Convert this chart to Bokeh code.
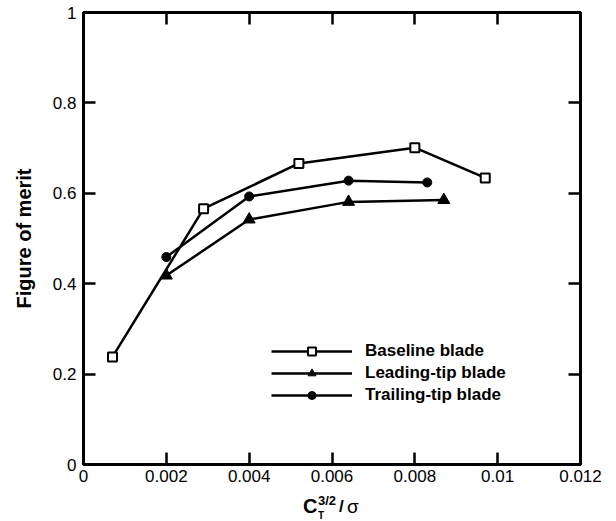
from bokeh.plotting import figure
from bokeh.models import Range1d, LinearAxis, FixedTicker, Legend, LegendItem, Div
from bokeh.layouts import column
from bokeh.embed import file_html
from bokeh.resources import INLINE

# ---- data ----
baseline_x = [0.0007, 0.0029, 0.0052, 0.0080, 0.0097]
baseline_y = [0.238, 0.566, 0.666, 0.701, 0.634]

leading_x = [0.0020, 0.0040, 0.0064, 0.0087]
leading_y = [0.418, 0.542, 0.581, 0.585]

trailing_x = [0.0020, 0.0040, 0.0064, 0.0083]
trailing_y = [0.459, 0.593, 0.628, 0.624]

x_ticks = [0, 0.002, 0.004, 0.006, 0.008, 0.010, 0.012]
x_tick_labels = ["0", "0.002", "0.004", "0.006", "0.008", "0.01", "0.012"]
y_ticks = [0, 0.2, 0.4, 0.6, 0.8, 1.0]
y_tick_labels = ["0", "0.2", "0.4", "0.6", "0.8", "1"]

FONT = "Liberation Sans"

p = figure(width=616, height=490,
           x_range=Range1d(0, 0.012), y_range=Range1d(0, 1),
           output_backend="svg", toolbar_location=None,
           min_border_left=83, min_border_right=36,
           min_border_top=12, min_border_bottom=26)
p.background_fill_color = "white"
p.border_fill_color = "white"
p.xgrid.visible = False
p.ygrid.visible = False
p.outline_line_color = "black"
p.outline_line_width = 3

def style_axis(ax, ticks, labels, show_labels):
    ax.ticker = FixedTicker(ticks=ticks)
    ax.axis_line_width = 3
    ax.axis_line_color = "black"
    ax.major_tick_in = 12
    ax.major_tick_out = 0
    ax.major_tick_line_width = 2.5
    ax.major_tick_line_color = "black"
    ax.minor_tick_line_color = None
    ax.major_label_text_font = FONT
    if show_labels:
        ax.major_label_overrides = {t: l for t, l in zip(ticks, labels)}
        ax.major_label_text_font_size = "17px"
        ax.major_label_text_color = "black"
    else:
        ax.major_label_text_font_size = "1px"
        ax.major_label_text_color = None
        ax.major_label_standoff = 0

xb = p.xaxis[0]
style_axis(xb, x_ticks, x_tick_labels, True)
xb.major_label_standoff = 5

yl = p.yaxis[0]
style_axis(yl, y_ticks, y_tick_labels, True)
yl.major_label_standoff = 7
yl.axis_label = "Figure of merit"
yl.axis_label_text_font = FONT
yl.axis_label_text_font_style = "bold"
yl.axis_label_text_font_size = "20px"
yl.axis_label_text_color = "black"
yl.axis_label_standoff = 15

xa = LinearAxis()
style_axis(xa, x_ticks, x_tick_labels, False)
p.add_layout(xa, "above")
yr = LinearAxis()
style_axis(yr, y_ticks, y_tick_labels, False)
p.add_layout(yr, "right")

# ---- series ----
bl = p.line(baseline_x, baseline_y, line_color="black", line_width=2.5)
bs = p.scatter(baseline_x, baseline_y, marker="square", size=9,
               fill_color="white", line_color="black", line_width=2)
ll = p.line(leading_x, leading_y, line_color="black", line_width=2.5)
ls = p.scatter(leading_x, leading_y, marker="triangle", size=12,
               fill_color="black", line_color="black")
tl = p.line(trailing_x, trailing_y, line_color="black", line_width=2.5)
ts = p.scatter(trailing_x, trailing_y, marker="circle", size=9,
               fill_color="black", line_color="black")

legend = Legend(items=[
    LegendItem(label="Baseline blade", renderers=[bl, bs]),
    LegendItem(label="Leading-tip blade", renderers=[ll, ls]),
    LegendItem(label="Trailing-tip blade", renderers=[tl, ts]),
], location=(188, 59), glyph_width=81, glyph_height=20, label_height=20,
    label_width=10, spacing=2, label_standoff=13, padding=0, margin=0,
    border_line_color=None, background_fill_alpha=0,
    label_text_font=FONT, label_text_font_style="bold",
    label_text_font_size="17px", label_text_color="black")
p.add_layout(legend)

# ---- x axis title: C_T^{3/2}/sigma (as real HTML text under the plot) ----
def span(txt, left, top, size, weight):
    return (f'<span style="position:absolute;left:{left}px;top:{top}px;'
            f'font-family:\'{FONT}\';font-size:{size}px;font-weight:{weight};'
            f'line-height:1;color:black;white-space:nowrap;">{txt}</span>')

title_html = ('<div style="position:relative;width:616px;height:31px;">'
              + span("C", 303, 6, 20, "bold")
              + span("T", 318, 21, 10, "bold")
              + span("3/2", 318, 4, 13, "bold")
              + span("/", 339, 8, 17, "bold")
              + span("σ", 347, 7, 19, "normal")
              + '</div>')
xtitle = Div(text=title_html, width=616, height=31, margin=0)

layout = column(p, xtitle, spacing=0)
open("out.html", "w").write(file_html(layout, INLINE))
